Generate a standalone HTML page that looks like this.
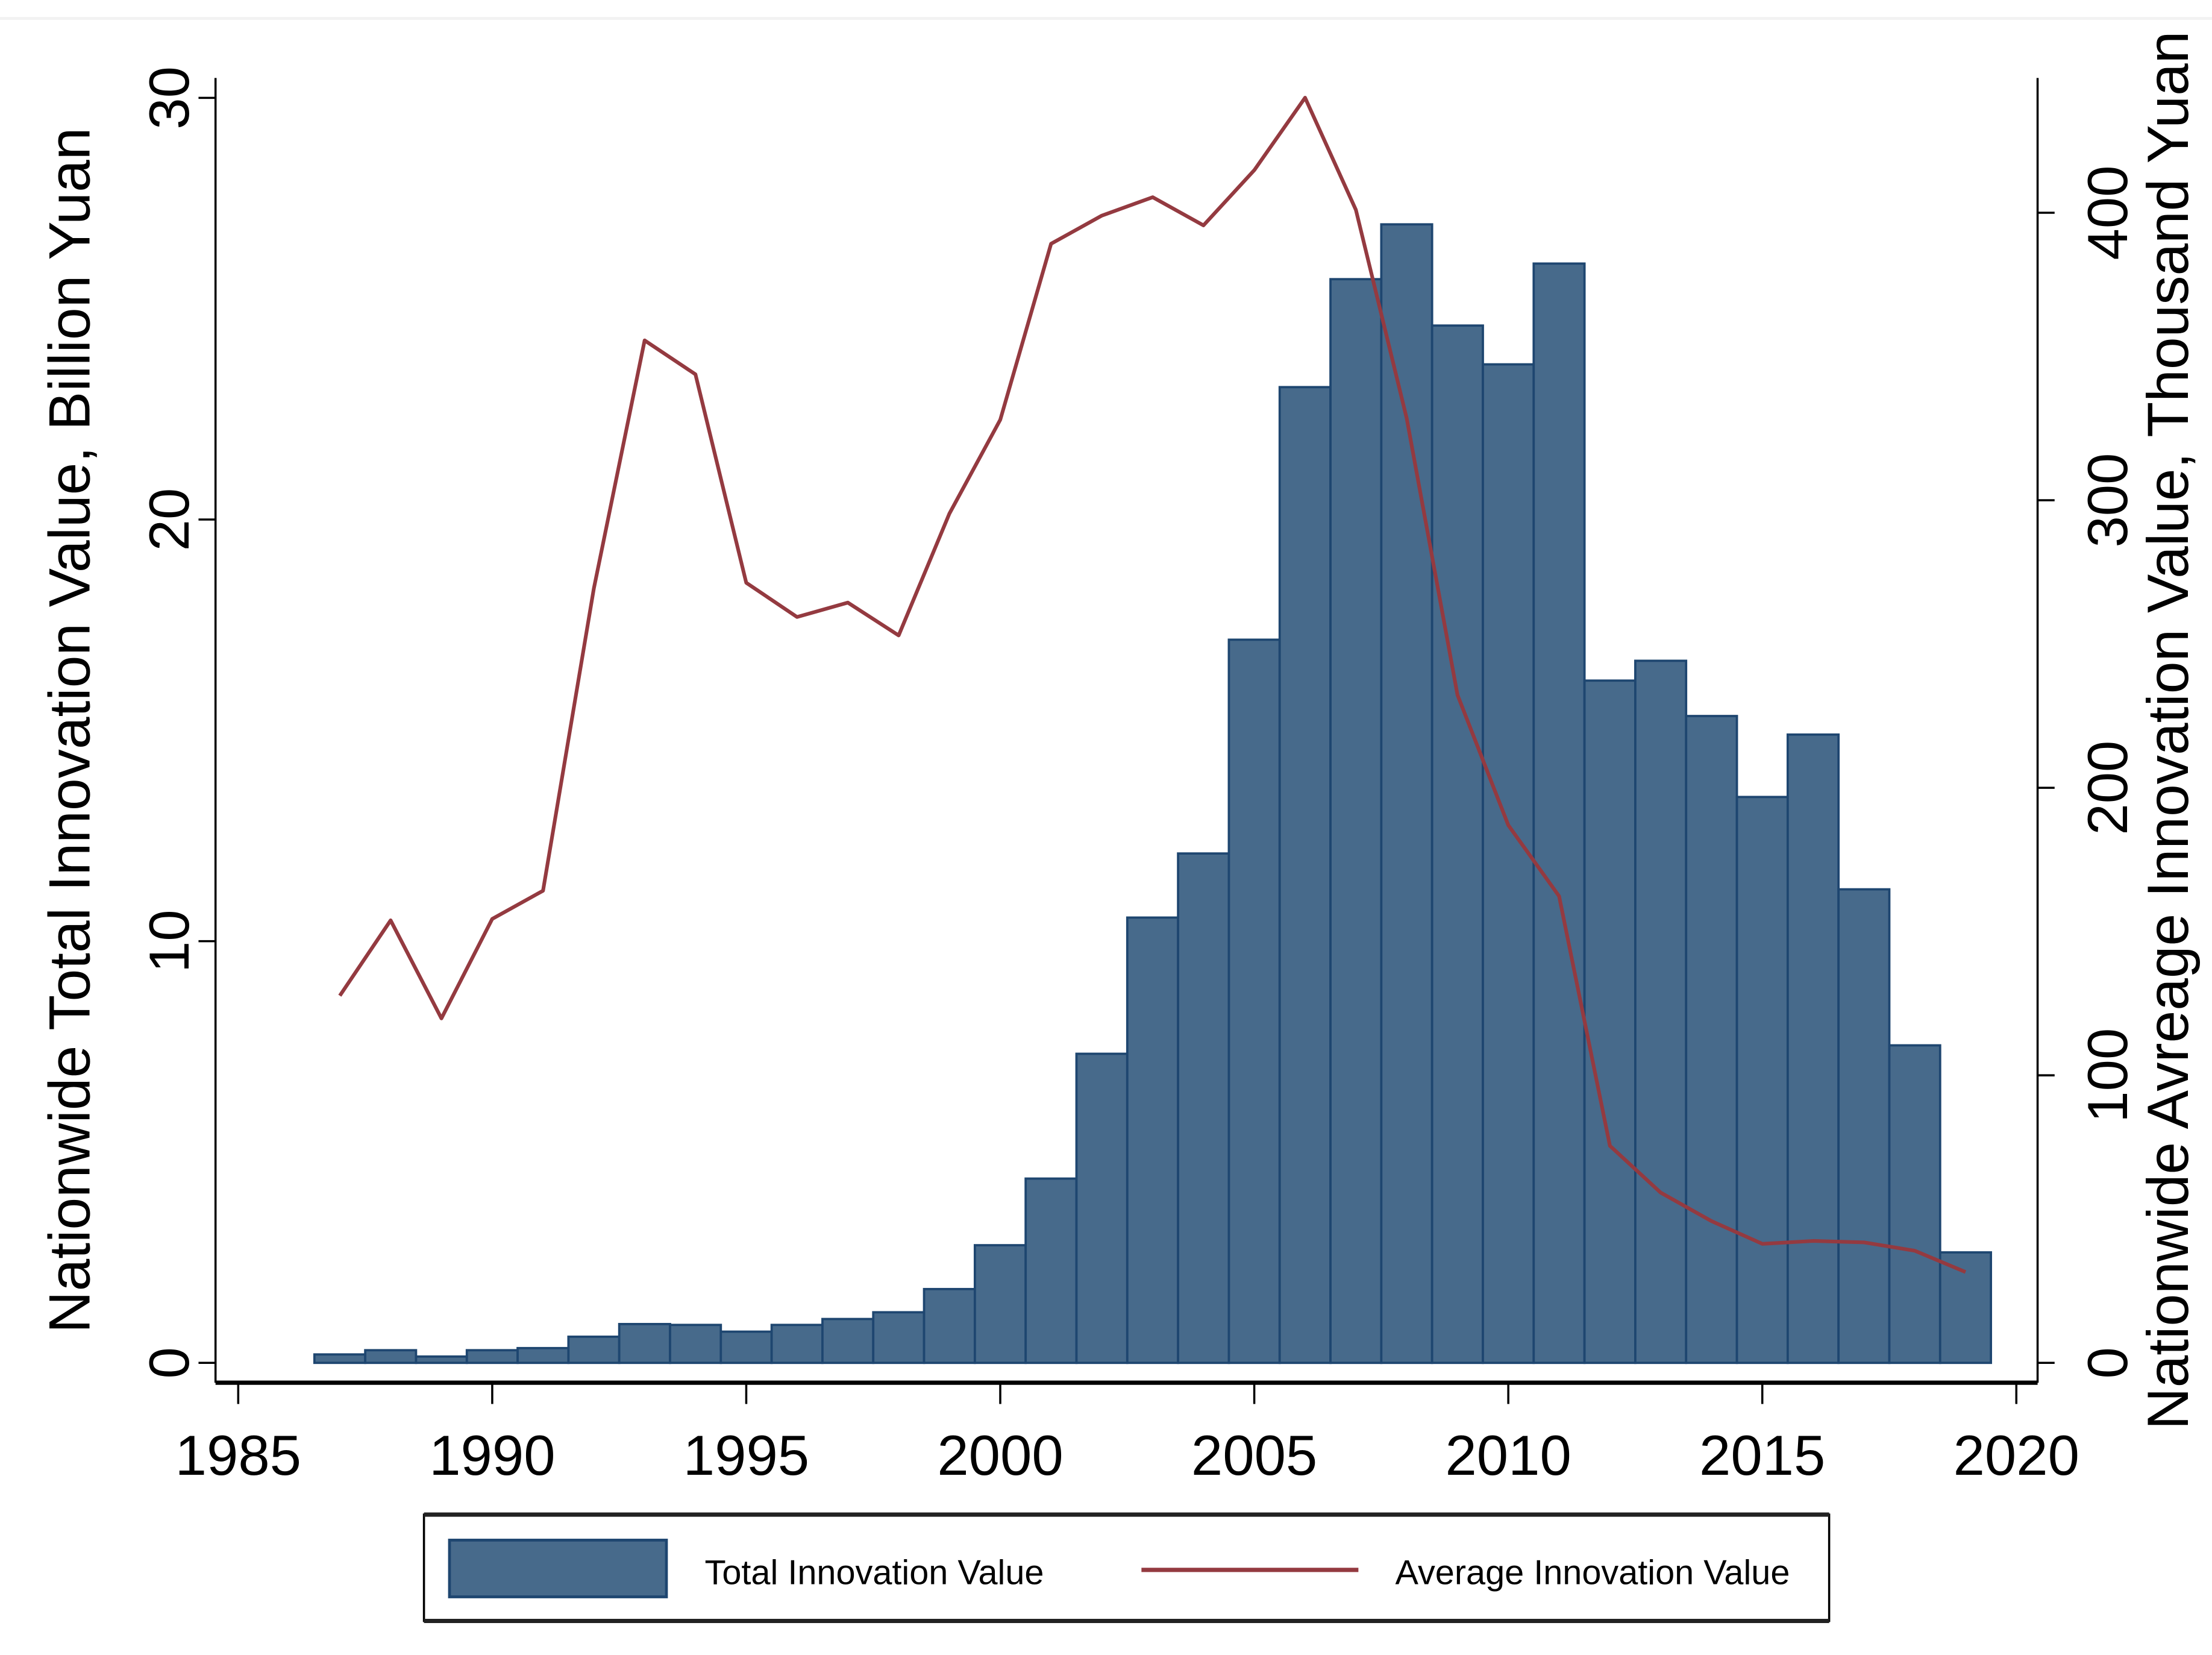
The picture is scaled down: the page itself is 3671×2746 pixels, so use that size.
<!DOCTYPE html>
<html><head><meta charset="utf-8"><style>html,body{margin:0;padding:0;background:#fff}svg{display:block}text{font-family:"Liberation Sans",Arial,sans-serif;fill:#000}</style></head>
<body>
<svg id="chart" width="3671" height="2746" viewBox="0 0 1560 1167" preserveAspectRatio="none" xmlns="http://www.w3.org/2000/svg">
<line x1="0" y1="13" x2="1560" y2="13" stroke="#f2f2f2" stroke-width="2"/>
<g id="bars"></g>
<polyline id="avgline" fill="none" stroke="#943a40" stroke-width="2.6" stroke-linejoin="round"/>
<g stroke="#000">
<line x1="152" y1="55" x2="152" y2="975" stroke-width="1.5"/>
<line x1="1437" y1="55" x2="1437" y2="975" stroke-width="1.5"/>
<line x1="152" y1="975" x2="1437" y2="975" stroke-width="3"/>
</g>
<g id="xticks"></g>
<g id="lticks"></g>
<g id="rticks"></g>
<text transform="translate(63,515) rotate(-90)" text-anchor="middle" font-size="41">Nationwide Total Innovation Value, Billion Yuan</text>
<text transform="translate(1543,515) rotate(-90)" text-anchor="middle" font-size="41">Nationwide Avreage Innovation Value, Thousand Yuan</text>
<g>
<rect x="299" y="1068" width="991" height="75" fill="#fff" stroke="#000" stroke-width="1.5"/>
<line x1="299" y1="1068" x2="1290" y2="1068" stroke="#222" stroke-width="3"/>
<line x1="299" y1="1143" x2="1290" y2="1143" stroke="#222" stroke-width="3"/>
<rect x="317" y="1086" width="153" height="40" fill="#476a8b" stroke="#1e4670" stroke-width="2"/>
<text x="497" y="1117" font-size="24.5">Total Innovation Value</text>
<line x1="805" y1="1107" x2="958" y2="1107" stroke="#943a40" stroke-width="3"/>
<text x="984" y="1117" font-size="24.5">Average Innovation Value</text>
</g>
</svg>
<script>
const years=[1987,1988,1989,1990,1991,1992,1993,1994,1995,1996,1997,1998,1999,2000,2001,2002,2003,2004,2005,2006,2007,2008,2009,2010,2011,2012,2013,2014,2015,2016,2017,2018,2019];
const totalValues=[0.2,0.3,0.15,0.3,0.35,0.62,0.92,0.9,0.74,0.9,1.04,1.2,1.75,2.79,4.37,7.33,10.56,12.08,17.15,23.14,25.7,27.0,24.6,23.68,26.07,16.18,16.65,15.34,13.42,14.9,11.23,7.53,2.62];
const avgValues=[127.7,153.9,119.8,154.4,164.2,269.3,355.6,343.8,271.3,259.4,264.4,253,295.4,328,389.2,399,405.4,395.6,414.8,440,401,328.5,232.3,187,162.3,75.5,59.2,49.3,41.4,42.4,41.9,39,31.6];
const xTicks=[1985,1990,1995,2000,2005,2010,2015,2020];
const leftTicks=[0,10,20,30];
const rightTicks=[0,100,200,300,400];
const NS="http://www.w3.org/2000/svg";
const xS=y=>168+(y-1985)*(1422-168)/35;
const yL=v=>961-v*(961-69)/30;
const yR=v=>961-v*(961-150)/400;
const bw=(1422-168)/35;
function mk(t,a){const e=document.createElementNS(NS,t);for(const k in a)e.setAttribute(k,a[k]);return e;}
const bars=document.getElementById('bars');
years.forEach((yr,i)=>{const r=mk('rect',{x:xS(yr)-bw/2,y:yL(totalValues[i]),width:bw,height:yL(0)-yL(totalValues[i]),fill:'#476a8b',stroke:'#1e4670','stroke-width':1.6});


bars.appendChild(r);});
document.getElementById('avgline').setAttribute('points',years.map((yr,i)=>xS(yr)+','+yR(avgValues[i])).join(' '));
const xt=document.getElementById('xticks');
xTicks.forEach(t=>{const l=mk('line',{x1:xS(t),x2:xS(t),y1:975,y2:990,stroke:'#000','stroke-width':1.5});xt.appendChild(l);
const tx=mk('text',{x:xS(t),y:1040,'text-anchor':'middle','font-size':40});tx.textContent=t;


xt.appendChild(tx);});
const lt=document.getElementById('lticks');
leftTicks.forEach(t=>{lt.appendChild(mk('line',{x1:140,x2:152,y1:yL(t),y2:yL(t),stroke:'#000','stroke-width':1.5}));
const tx=mk('text',{transform:`translate(133,${yL(t)}) rotate(-90)`,'text-anchor':'middle','font-size':40});tx.textContent=t;


lt.appendChild(tx);});
const rt=document.getElementById('rticks');
rightTicks.forEach(t=>{rt.appendChild(mk('line',{x1:1437,x2:1449,y1:yR(t),y2:yR(t),stroke:'#000','stroke-width':1.5}));
const tx=mk('text',{transform:`translate(1500,${yR(t)}) rotate(-90)`,'text-anchor':'middle','font-size':40});tx.textContent=t;


rt.appendChild(tx);});
</script>
</body></html>
